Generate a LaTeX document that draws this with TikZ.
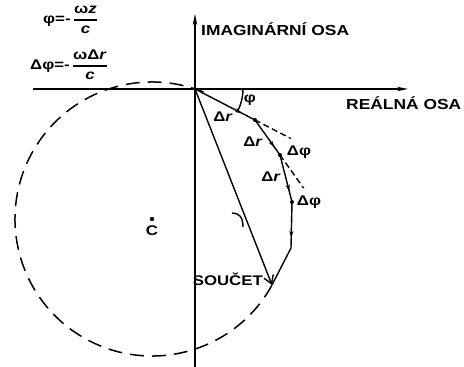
\documentclass[tikz,border=0pt]{standalone}
\usepackage{amsmath}
\usepackage{fontspec}
\setmainfont{Liberation Sans}[FakeStretch=1.2]
\usepackage{tikz}
\usetikzlibrary{arrows.meta, positioning, calc, decorations.markings}

\tikzset{
  axis/.style={line width=1.4pt, -{Stealth[length=11pt, width=4.5pt]}},
  chord/.style={line width=1.4pt, postaction={decorate},
    decoration={markings, mark=at position 0.78 with {\arrow{Stealth[length=7pt, width=4pt]}}}},
  lbl/.style={font=\bfseries\fontsize{14}{16}\selectfont, inner sep=0pt},
  axlbl/.style={font=\bfseries\fontsize{14.5}{17}\selectfont, inner sep=0pt},
  dashline/.style={line width=1.4pt, dash pattern=on 6pt off 3.5pt},
}

\begin{document}
\begin{tikzpicture}[x=1pt, y=1pt]
  \useasboundingbox (0,0) rectangle (464,367);

  % Points of the chain
  \coordinate (O) at (195,278);
  \coordinate (C) at (152,148);
  \coordinate (p1) at (255,247);
  \coordinate (p2) at (280,212);
  \coordinate (p3) at (292,165);
  \coordinate (p4) at (291,119);
  \coordinate (S) at (272,82);

  % Axes
  \coordinate (reL) at (33,278);
  \coordinate (reR) at (408,278);
  \coordinate (imB) at (195,0);
  \coordinate (imT) at (195,353);
  \draw[axis] (reL) -- (reR);
  \draw[axis] (imB) -- (imT);
  \node[axlbl, anchor=west] (re) at (346,264) {REÁLNÁ OSA};
  \node[axlbl, anchor=west] (im) at (201,338) {IMAGINÁRNÍ OSA};

  % Dashed circle
  \draw[line width=1.5pt, dash pattern=on 14pt off 8pt]
    (C) ++(-29:137) arc[start angle=-29, end angle=-292, radius=137];
  \fill (C) circle (2.2pt);
  \node[lbl, below=7pt of C] (clbl) {C};

  % Chain of steps
  \foreach \a/\b in {O/p1, p1/p2, p2/p3, p3/p4}
    \draw[chord] (\a) -- (\b);
  \draw[line width=1.4pt] (p4) -- (S);
  \foreach \p in {p1, p2, p3}
    \fill (\p) circle (2pt);

  % Tangent continuations
  \coordinate (t1) at ($(O)!1.6!(p1)$);
  \coordinate (t2) at ($(p1)!1.95!(p2)$);
  \draw[dashline] (p1) -- (t1);
  \draw[dashline] (p2) -- (t2);

  % Resultant
  \draw[line width=1.4pt, -{Straight Barb[length=8pt, width=10pt]}] (O) -- (S);
  \draw[line width=1.4pt] (232,154) .. controls (239,154) and (243,150) .. (243,140);

  % Angle phi
  \draw[line width=1.4pt] (O) ++(0:48) arc[start angle=0, end angle=-29, radius=48];
  \node[lbl] (phi) at (250,267) {φ};

  % Step labels
  \node[lbl] (dr1) at (223,250) {Δ\textit{r}};
  \node[lbl] (dr2) at (253,225) {Δ\textit{r}};
  \node[lbl] (dr3) at (271,190) {Δ\textit{r}};
  \node[lbl] (dphi1) at (299,215) {Δφ};
  \node[lbl] (dphi2) at (309,165) {Δφ};
  \node[lbl, anchor=east] (sum) at (263,88) {SOUČET};

  % Formulas
  \node[lbl, anchor=west] (f1) at (43,347)
    {φ=-\,$\genfrac{}{}{1.2pt}{0}{\text{ω\textit{z}}}{\text{\textit{c}}}$};
  \node[lbl, anchor=west] (f2) at (30,302)
    {Δφ=-\,$\genfrac{}{}{1.2pt}{0}{\text{ωΔ\textit{r}}}{\text{\textit{c}}}$};
\end{tikzpicture}
\end{document}
